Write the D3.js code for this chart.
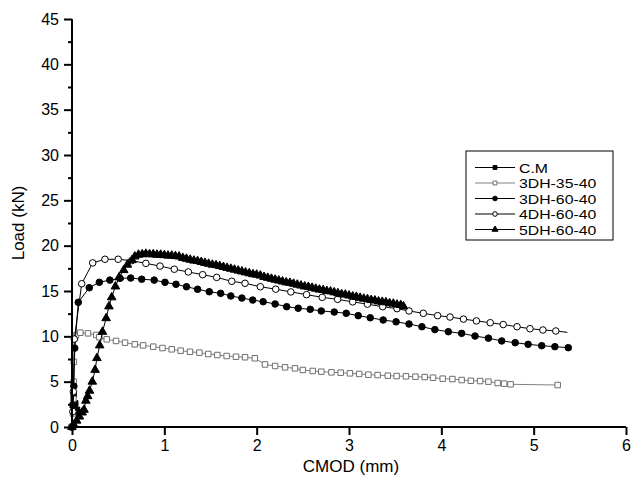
<!DOCTYPE html>
<html>
<head>
<meta charset="utf-8">
<script src="https://cdn.jsdelivr.net/npm/d3@7"></script>
<style>
  body { margin: 0; background: #fff; }
  svg { display: block; font-family: "Liberation Sans", Arial, sans-serif; }
</style>
</head>
<body>
<svg id="chart" width="632" height="491"></svg>
<script>
// values: [CMOD (mm), Load (kN)]
const seriesNames = ["C.M", "3DH-35-40", "3DH-60-40", "4DH-60-40", "5DH-60-40"];

const cm = [[0, 0], [0.008, 2.4], [0.018, 3.6], [0.035, 2.6], [0.054, 1.9], [0.07, 1.6]];

const dh3540 = [
  [0, 0], [0.01, 1.5], [0.015, 3.1], [0.018, 5.0], [0.02, 7.2], [0.043, 10.1],
  [0.09, 10.4], [0.173, 10.33], [0.263, 10.15], [0.296, 9.9], [0.376, 9.67],
  [0.477, 9.49], [0.574, 9.3], [0.68, 9.12], [0.77, 9.0], [0.88, 8.86], [0.98, 8.71],
  [1.08, 8.57], [1.177, 8.42], [1.278, 8.3], [1.38, 8.2], [1.476, 8.05], [1.574, 7.94],
  [1.675, 7.83], [1.776, 7.75], [1.874, 7.69], [1.98, 7.58], [2.09, 6.9], [2.2, 6.73],
  [2.307, 6.58], [2.415, 6.47], [2.5, 6.29], [2.607, 6.18], [2.7, 6.1], [2.81, 6.03],
  [2.91, 5.99], [3.01, 5.92], [3.11, 5.85], [3.21, 5.77], [3.31, 5.73], [3.42, 5.66],
  [3.516, 5.62], [3.617, 5.59], [3.72, 5.55], [3.82, 5.51], [3.91, 5.44], [4.015, 5.33],
  [4.12, 5.29], [4.22, 5.18], [4.32, 5.1], [4.42, 5.07], [4.51, 5.0], [4.61, 4.85],
  [4.68, 4.78], [4.75, 4.71], [5.26, 4.63]
];

const dh6040 = [
  [0, 0], [0.02, 4.5], [0.03, 8.7], [0.068, 13.75], [0.187, 15.36], [0.296, 15.96],
  [0.41, 16.2], [0.52, 16.4], [0.636, 16.43], [0.755, 16.3], [0.89, 16.2], [1.007, 15.96],
  [1.126, 15.74], [1.24, 15.47], [1.36, 15.19], [1.487, 14.92], [1.61, 14.74], [1.72, 14.45],
  [1.84, 14.22], [1.957, 14.0], [2.07, 13.82], [2.2, 13.57], [2.325, 13.27], [2.45, 13.1],
  [2.58, 12.98], [2.7, 12.8], [2.84, 12.68], [2.97, 12.54], [3.1, 12.28], [3.23, 12.05],
  [3.37, 11.8], [3.51, 11.6], [3.65, 11.36], [3.79, 11.06], [3.93, 10.74], [4.076, 10.51],
  [4.22, 10.33], [4.365, 10.03], [4.51, 9.8], [4.654, 9.49], [4.8, 9.3], [4.94, 9.12],
  [5.087, 8.97], [5.23, 8.86], [5.375, 8.75]
];

const dh4640 = [
  [0, 0], [0.01, 1.7], [0.015, 3.9], [0.025, 9.7], [0.105, 15.8], [0.224, 18.1],
  [0.357, 18.5], [0.5, 18.5], [0.646, 18.35], [0.8, 18.05], [0.953, 17.75], [1.108, 17.4],
  [1.26, 17.1], [1.415, 16.8], [1.567, 16.5], [1.73, 16.07], [1.874, 15.85], [2.04, 15.47],
  [2.206, 15.2], [2.37, 14.9], [2.54, 14.6], [2.71, 14.3], [2.877, 14.08], [3.04, 13.8],
  [3.2, 13.55], [3.365, 13.27], [3.52, 13.05], [3.65, 12.8], [3.805, 12.54], [3.96, 12.28],
  [4.094, 12.13], [4.24, 11.9], [4.38, 11.7], [4.53, 11.5], [4.67, 11.3], [4.82, 11.06],
  [4.96, 10.84], [5.1, 10.7], [5.24, 10.59], [5.365, 10.44]
];

const dh5640 = [
  [0, 0], [0.02, 0.25], [0.05, 0.7], [0.08, 1.15], [0.11, 1.6], [0.13, 1.9], [0.15, 2.9],
  [0.17, 3.4], [0.19, 4.0], [0.22, 5.0], [0.25, 6.3], [0.27, 7.6], [0.3, 9.0], [0.33, 10.5],
  [0.37, 12.0], [0.4, 13.3], [0.43, 14.3], [0.47, 15.5], [0.51, 16.5], [0.56, 17.3],
  [0.6, 17.9], [0.65, 18.4], [0.68, 18.8], [0.72, 19.0], [0.76, 19.05], [0.8, 19.1],
  [0.84, 19.05], [0.88, 19.05], [0.92, 19.0], [0.96, 19.0], [1.0, 18.95], [1.04, 18.9],
  [1.08, 18.9], [1.12, 18.85], [1.16, 18.8], [1.2, 18.65], [1.24, 18.55], [1.28, 18.45],
  [1.32, 18.35], [1.36, 18.3], [1.4, 18.2], [1.44, 18.1], [1.48, 18.0], [1.52, 17.9],
  [1.56, 17.85], [1.6, 17.75], [1.64, 17.65], [1.68, 17.55], [1.72, 17.45], [1.76, 17.35],
  [1.8, 17.25], [1.84, 17.15], [1.88, 17.05], [1.92, 16.95], [1.96, 16.85], [2.0, 16.8],
  [2.04, 16.7], [2.08, 16.55], [2.12, 16.45], [2.16, 16.35], [2.2, 16.25], [2.24, 16.15],
  [2.28, 16.05], [2.32, 15.95], [2.36, 15.9], [2.4, 15.8], [2.44, 15.7], [2.48, 15.6],
  [2.52, 15.5], [2.56, 15.45], [2.6, 15.35], [2.64, 15.25], [2.68, 15.15], [2.72, 15.1],
  [2.76, 15.0], [2.8, 14.95], [2.84, 14.85], [2.88, 14.75], [2.92, 14.65], [2.96, 14.6],
  [3.0, 14.5], [3.04, 14.4], [3.08, 14.35], [3.12, 14.25], [3.16, 14.15], [3.2, 14.1],
  [3.24, 14.0], [3.28, 13.95], [3.32, 13.85], [3.36, 13.8], [3.4, 13.75], [3.44, 13.65],
  [3.48, 13.6], [3.52, 13.5], [3.56, 13.45], [3.59, 13.3]
];

const xTicks = [0, 1, 2, 3, 4, 5, 6];
const yTicks = [0, 5, 10, 15, 20, 25, 30, 35, 40, 45];
const yMinor = [2.5, 7.5, 12.5, 17.5, 22.5, 27.5, 32.5, 37.5, 42.5];

const svg = d3.select("#chart");
const pLeft = 72, pRight = 626, pTop = 19, pBottom = 427;

const x = d3.scaleLinear().domain([0, 6]).range([pLeft, pRight]);
const y = d3.scaleLinear().domain([0, 45]).range([pBottom, pTop]);

// series styling
const styles = [
  { data: cm,     line: "#000", sym: d3.symbolSquare,   size: 30, fill: "#000", stroke: "#000" },
  { data: dh3540, line: "#808080", sym: d3.symbolSquare, size: 30, fill: "#fff", stroke: "#6e6e6e" },
  { data: dh6040, line: "#000", sym: d3.symbolCircle,   size: 34, fill: "#000", stroke: "#000" },
  { data: dh4640, line: "#000", sym: d3.symbolCircle,   size: 34, fill: "#fff", stroke: "#000", noLast: true },
  { data: dh5640, line: "#000", sym: d3.symbolTriangle, size: 32, fill: "#000", stroke: "#000" }
];

const line = d3.line().x(d => x(d[0])).y(d => y(d[1]));

styles.forEach(s => {
  const g = svg.append("g");
  g.append("path")
    .attr("d", line(s.data))
    .attr("fill", "none")
    .attr("stroke", s.line)
    .attr("stroke-width", 1);
  const pts = s.noLast ? s.data.slice(0, -1) : s.data;
  g.selectAll("path.m").data(pts).enter().append("path")
    .attr("class", "m")
    .attr("d", d3.symbol().type(s.sym).size(s.size))
    .attr("transform", d => `translate(${x(d[0])},${y(d[1])})`)
    .attr("fill", s.fill)
    .attr("stroke", s.stroke)
    .attr("stroke-width", 1);
});

// axes
const xAxis = d3.axisBottom(x).tickValues(xTicks).tickSize(8).tickPadding(5).tickFormat(d3.format("d"));
const yAxis = d3.axisLeft(y).tickValues(yTicks).tickSize(8).tickPadding(5).tickFormat(d3.format("d"));

const gx = svg.append("g").attr("transform", `translate(0,${pBottom})`).call(xAxis);
const gy = svg.append("g").attr("transform", `translate(${pLeft},0)`).call(yAxis);
const gm = svg.append("g").attr("transform", `translate(${pLeft},0)`)
  .call(d3.axisLeft(y).tickValues(yMinor).tickSize(4).tickFormat(""));
gm.select(".domain").remove();

[gx, gy, gm].forEach(g => {
  g.select(".domain").attr("stroke-width", 2);
  g.selectAll(".tick line").attr("stroke-width", 2);
  g.selectAll(".tick text").attr("font-size", 16).attr("fill", "#000")
    .attr("font-family", "Liberation Sans, Arial, sans-serif");
});
gx.select(".domain").attr("d", `M${pLeft},0H${pRight}`);
gy.select(".domain").attr("d", `M0,${pTop}V${pBottom}`);

svg.append("text")
  .attr("x", (pLeft + pRight) / 2 + 2).attr("y", 472)
  .attr("text-anchor", "middle").attr("font-size", 17)
  .text("CMOD (mm)");

svg.append("text")
  .attr("transform", `translate(24,${(pTop + pBottom) / 2}) rotate(-90)`)
  .attr("text-anchor", "middle").attr("font-size", 17)
  .text("Load (kN)");

// legend
const lg = svg.append("g");
lg.append("rect")
  .attr("x", 466).attr("y", 151).attr("width", 147).attr("height", 89)
  .attr("fill", "#fff").attr("stroke", "#000").attr("stroke-width", 1);

styles.forEach((s, i) => {
  const yy = 167.5 + i * 15.5;
  lg.append("line")
    .attr("x1", 475).attr("x2", 515).attr("y1", yy).attr("y2", yy)
    .attr("stroke", s.line).attr("stroke-width", 1);
  lg.append("path")
    .attr("d", d3.symbol().type(s.sym).size(s.size * 0.5))
    .attr("transform", `translate(495,${yy})`)
    .attr("fill", s.fill).attr("stroke", s.stroke).attr("stroke-width", 1);
  const t = lg.append("text")
    .attr("x", 519).attr("y", yy + 5)
    .attr("font-size", 13.5)
    .text(seriesNames[i]);
  // the reference legend font is wider than Liberation Sans at this size
  const w = t.node().getComputedTextLength();
  t.attr("textLength", w * 1.17).attr("lengthAdjust", "spacingAndGlyphs");
});
</script>
</body>
</html>
